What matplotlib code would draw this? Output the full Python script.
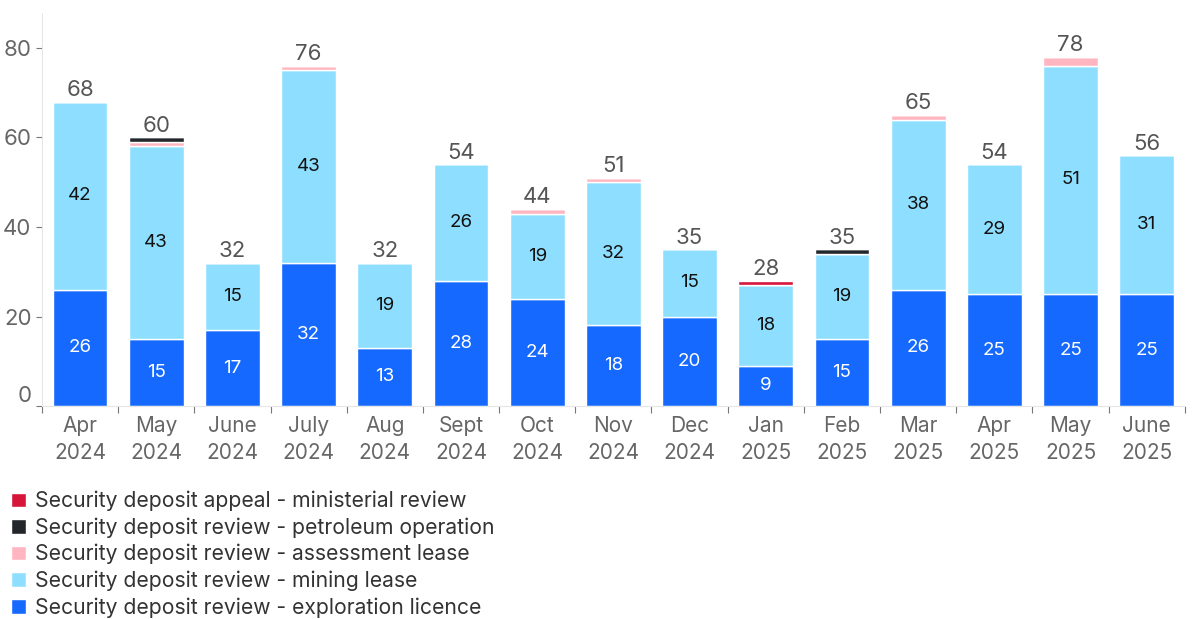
import numpy as np
import matplotlib.pyplot as plt
from matplotlib.transforms import ScaledTranslation

plt.rcParams['font.family'] = ['Inter', 'DejaVu Sans']

months = ['Apr\n2024', 'May\n2024', 'June\n2024', 'July\n2024', 'Aug\n2024',
          'Sept\n2024', 'Oct\n2024', 'Nov\n2024', 'Dec\n2024', 'Jan\n2025',
          'Feb\n2025', 'Mar\n2025', 'Apr\n2025', 'May\n2025', 'June\n2025']

exploration = [26, 15, 17, 32, 13, 28, 24, 18, 20, 9, 15, 26, 25, 25, 25]
mining = [42, 43, 15, 43, 19, 26, 19, 32, 15, 18, 19, 38, 29, 51, 31]
assessment = [0, 1, 0, 1, 0, 0, 1, 1, 0, 0, 0, 1, 0, 2, 0]
petroleum = [0, 1, 0, 0, 0, 0, 0, 0, 0, 0, 1, 0, 0, 0, 0]
ministerial = [0, 0, 0, 0, 0, 0, 0, 0, 0, 1, 0, 0, 0, 0, 0]

series = [
    ('Security deposit review - exploration licence', exploration, '#1669FE'),
    ('Security deposit review - mining lease', mining, '#8EDFFF'),
    ('Security deposit review - assessment lease', assessment, '#FFB6C1'),
    ('Security deposit review - petroleum operation', petroleum, '#23272B'),
    ('Security deposit appeal - ministerial review', ministerial, '#D7153A'),
]

fig = plt.figure(figsize=(11.92, 6.19), dpi=100)
ax = fig.add_axes([0.0352, 0.344, 0.9588, 0.635])

x = np.arange(len(months))
bottom = np.zeros(len(months))
handles = []
for name, vals, col in series:
    vals = np.array(vals, dtype=float)
    b = ax.bar(x, vals, 0.72, bottom=bottom, color=col, edgecolor='white',
               linewidth=1, label=name)
    handles.append(b)
    if name.endswith('exploration licence'):
        for xi, v, b0 in zip(x, vals, bottom):
            ax.text(xi, b0 + v / 2, f'{int(v)}', ha='center', va='center',
                    color='white', fontsize=13.5)
    elif name.endswith('mining lease'):
        for xi, v, b0 in zip(x, vals, bottom):
            ax.text(xi, b0 + v / 2, f'{int(v)}', ha='center', va='center',
                    color='#111111', fontsize=13.5)
    bottom += vals

for xi, t in zip(x, bottom):
    ax.text(xi, t + 0.4, f'{int(t)}', ha='center', va='bottom',
            color='#555555', fontsize=16)

ax.set_xlim(-0.5, len(months) - 0.5)
ax.set_ylim(0, 87.8)
ax.set_yticks([0, 20, 40, 60, 80])
ax.tick_params(axis='y', labelsize=16, labelcolor='#666666', color='#777777',
               length=4, width=0.8)
# the zero label sits a little above the baseline in the original
lbl0 = ax.get_yticklabels()[0]
lbl0.set_transform(lbl0.get_transform() + ScaledTranslation(0, 0.12, fig.dpi_scale_trans))

ax.set_xticks(x)
ax.set_xticklabels(months, linespacing=1.42)
ax.tick_params(axis='x', which='major', length=0, labelsize=15,
               labelcolor='#666666', pad=7)
ax.set_xticks(np.arange(-0.5, len(months), 1), minor=True)
ax.tick_params(axis='x', which='minor', length=5, color='#777777', width=0.8)

for s in ['top', 'right']:
    ax.spines[s].set_visible(False)
for s in ['left', 'bottom']:
    ax.spines[s].set_color('#e6e6e6')

fig.legend(handles[::-1], [h.get_label() for h in handles[::-1]],
           loc='upper left', bbox_to_anchor=(0.002, 0.2205), frameon=False,
           fontsize=15.2, handlelength=0.7, handleheight=0.7,
           handletextpad=0.45, labelspacing=0.285, borderaxespad=0,
           labelcolor='#333333')

fig.savefig('out.png', dpi=100)
